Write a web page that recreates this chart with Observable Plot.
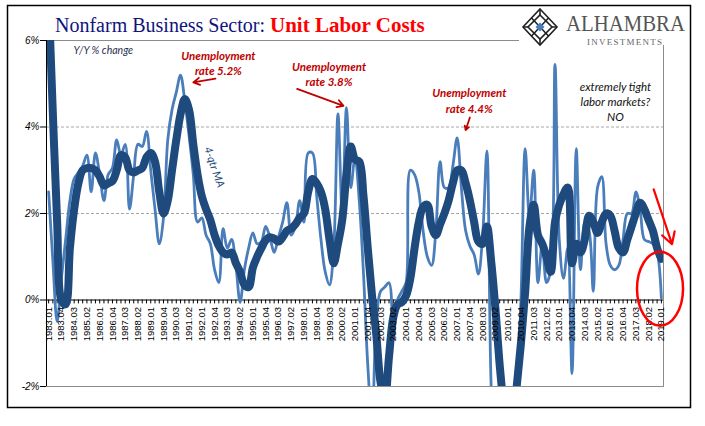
<!DOCTYPE html>
<html><head><meta charset="utf-8">
<script src="https://cdn.jsdelivr.net/npm/d3@7"></script>
<script src="https://cdn.jsdelivr.net/npm/@observablehq/plot@0.6"></script>
<style>
body{margin:0;background:#fff;}
#wrap{position:relative;width:705px;height:426px;overflow:hidden;background:#fff;}
#chart{position:absolute;left:0;top:0;}
#overlay{position:absolute;left:0;top:0;pointer-events:none;}
</style></head>
<body><div id="wrap"><div id="chart"></div>
<svg id="overlay" width="705" height="426" xmlns="http://www.w3.org/2000/svg">
  <rect x="7.5" y="5.5" width="683" height="402" fill="none" stroke="#000" stroke-width="1.5"/>
  <rect x="519" y="7" width="170" height="38" fill="#fff"/>
  <text x="55" y="32" font-family="Liberation Serif" font-size="20"><tspan fill="#10147e">Nonfarm Business Sector: </tspan><tspan fill="#ff0000" font-weight="bold" font-size="21">Unit Labor Costs</tspan></text>
  <g stroke="#222" fill="none" stroke-width="1.6">
    <path d="M540,9 L557,27 L540,45 L523,27 Z"/>
    <path d="M540,15 L552,27 L540,39 L528,27 Z"/>
    <path d="M531.5,18 L548.5,36 M548.5,18 L531.5,36"/>
    <path d="M540,9 L540,15 M557,27 L552,27 M540,45 L540,39 M523,27 L528,27"/>
  </g>
  <path d="M540,22.5 L544.5,27 L540,31.5 L535.5,27 Z" fill="#4a7ebb"/>
  <text x="566" y="31" font-family="Liberation Serif" font-size="23" fill="#555" textLength="119" lengthAdjust="spacingAndGlyphs">ALHAMBRA</text>
  <text x="587" y="45" font-family="Liberation Serif" font-size="9" fill="#666" textLength="75" lengthAdjust="spacing">INVESTMENTS</text>
</svg>
</div>
<script>
// Quarterly Y/Y % change, 1983.01 .. 2019.01
const yoy = [
 2.5, 0.9, -0.5, 0.5, 1.4, 2.3, 2.8, 2.95, 3.1, 3.35,
 2.5, 3.4, 2.9, 2.3, 2.9, 3.05, 3.7, 3.35, 3.6, 2.1,
 2.9, 3.6, 3.55, 3.9, 3.0, 2.1, 1.3, 1.9, 3.7, 4.4,
 4.8, 5.2, 4.6, 3.8, 2.9, 1.8, 1.9, 1.5, 1.3, 0.7,
 0.4, 1.65, 1.2, 1.4, 0.8, -0.05, 0.7, 1.2, 1.55, 1.3,
 1.35, 1.7, 1.45, 1.1, 1.45, 1.8, 2.25, 1.5, 1.7, 2.3,
 1.8, 3.4, 3.4, 2.4, 1.4, 0.65, 0.35, 1.2, 4.3, 2.0,
 4.45, 2.6, 3.3, 2.3, 0.6, -1.5, -2.8, -0.5, 0.2, 0.3,
 0.4, -0.9, 0.0, 0.2, 0.4, 3.0, 2.9, 2.5, 1.6, 1.0,
 0.8, 1.6, 3.2, 2.6, 2.6, 3.1, 3.75, 2.6, 1.6, 1.25,
 1.05, 0.6, 1.5, 3.45, -2.0, -3.8, -4.0, -3.5, -3.2, -2.6,
 -2.2, 0.0, 3.5, 1.9, 3.0, 0.4, 1.3, 0.4, 0.7, 5.45,
 1.4, 0.5, 1.2, -1.7, 3.5, 0.7, 1.8, 1.6, 0.2, 2.6,
 2.85, 1.3, 0.8, 0.7, 0.8, 1.4, 2.0, 2.0, 2.5, 2.1,
 1.4, 1.35, 1.3, 1.1, 0.05
];
// 4-quarter moving average
const ma4 = [
 7.0, 4.3, 1.8, 0.0, -0.1, 1.2, 2.1, 2.7, 3.0, 3.05,
 3.05, 3.0, 2.85, 2.65, 2.7, 2.75, 3.0, 3.35, 3.3, 3.0,
 2.95, 3.0, 3.05, 3.3, 3.4, 3.2, 2.5, 2.0, 2.3, 3.0,
 3.7, 4.3, 4.65, 4.4, 3.6, 2.9, 2.4, 2.1, 1.85, 1.5,
 1.25, 1.1, 1.05, 1.1, 0.85, 0.65, 0.35, 0.3, 0.75, 1.0,
 1.2, 1.38, 1.45, 1.42, 1.35, 1.45, 1.6, 1.65, 1.75, 1.9,
 2.0, 2.5, 2.8, 2.7, 2.5, 2.1, 1.4, 0.85, 1.3, 1.85,
 2.9, 3.55, 3.25, 3.2, 2.4, 1.2, 0.1, -0.8, -1.9, -2.3,
 -1.3, -0.4, -0.1, -0.05, 0.1, 0.5, 1.2, 1.8, 2.15, 2.2,
 1.7, 1.5, 1.75, 2.0, 2.3, 2.7, 3.0, 3.0, 2.7, 2.3,
 1.8, 1.35, 1.3, 1.7, 0.9, -0.2, -1.5, -2.5, -3.3, -3.0,
 -2.0, -1.0, 0.2, 1.7, 2.2, 1.5, 1.3, 1.0, 0.65, 1.8,
 2.2, 2.45, 2.6, 0.85, 1.3, 1.1, 1.4, 1.95, 1.8, 1.55,
 1.8, 2.0, 1.95, 1.6, 1.2, 1.1, 1.4, 1.7, 2.0, 2.25,
 2.1, 1.85, 1.6, 1.2, 0.95
];
const yTicks = [-2, 0, 2, 4, 6];
const yTickLabels = ["-2%", "0%", "2%", "4%", "6%"];
const firstYear = 1983, lastYear = 2019;
const quarters = [];
for (let y = firstYear; y <= lastYear; y++) for (let q = 1; q <= 4; q++) {
  if (y === lastYear && q > 1) break;
  quarters.push(`${y}.0${q}`);
}
const idx = d3.range(quarters.length);
const labelIdx = idx.filter(i => i % 3 === 0);

const ellipseMark = (index, scales) => {
  const e = document.createElementNS("http://www.w3.org/2000/svg", "ellipse");
  e.setAttribute("cx", scales.x(143.8));
  e.setAttribute("cy", scales.y(0.25));
  e.setAttribute("rx", 23);
  e.setAttribute("ry", 37);
  e.setAttribute("fill", "none");
  e.setAttribute("stroke", "#ff0000");
  e.setAttribute("stroke-width", 2.5);
  return e;
};

const red = "#c00000";
const annFont = "Lato";
const chart = Plot.plot({
  width: 705, height: 426,
  marginLeft: 46, marginRight: 42, marginTop: 40, marginBottom: 40,
  x: {type: "linear", domain: [-0.5, quarters.length - 0.5], axis: null},
  y: {domain: [-2, 6], axis: null},
  style: {fontFamily: "Liberation Sans", background: "transparent", overflow: "visible"},
  marks: [
    Plot.ruleY([2, 4], {stroke: "#a6a6a6", strokeDasharray: "3,2"}),
    Plot.frame({stroke: "#8c8c8c"}),
    Plot.ruleY([0], {stroke: "#000"}),
    Plot.ruleX(idx, {x: d => d, y1: 0, y2: -0.09, stroke: "#000"}),
    Plot.lineY(yoy, {x: (d, i) => i, y: d => d, stroke: "#4a7ebb", strokeWidth: 2.8, curve: "catmull-rom", clip: true, strokeLinejoin: "round"}),
    Plot.lineY(ma4, {x: (d, i) => i, y: d => d, stroke: "#1f4a7d", strokeWidth: 8, curve: "catmull-rom", clip: true, strokeLinejoin: "round"}),
    Plot.ruleX([-0.5], {y1: -2, y2: 6, stroke: "#000"}),
    Plot.ruleY(yTicks, {x1: -1.9, x2: -0.5, stroke: "#000"}),
    Plot.text(yTicks, {frameAnchor: "left", y: d => d, text: (d, i) => yTickLabels[i], textAnchor: "end", dx: -7, fontSize: 10, fontStyle: "italic"}),
    Plot.text(labelIdx, {x: d => d, y: 0, text: d => quarters[d], rotate: -90, textAnchor: "end", dy: 7, fontSize: 9.5, fill: "#000"}),
    Plot.text(["Y/Y % change"], {x: 5.85, y: 5.76, text: d => d, textAnchor: "start", fontFamily: annFont, fontStyle: "italic", fontSize: 10.5, fill: "#1f3050"}),
    Plot.text(["Unemployment\nrate 5.2%"], {x: 39.9, y: 5.49, text: d => d, fontFamily: annFont, fontStyle: "italic", fontWeight: "bold", fontSize: 11.5, fill: red, lineHeight: 1.35}),
    Plot.text(["Unemployment\nrate 3.8%"], {x: 65.9, y: 5.24, text: d => d, fontFamily: annFont, fontStyle: "italic", fontWeight: "bold", fontSize: 11.5, fill: red, lineHeight: 1.35}),
    Plot.text(["Unemployment\nrate 4.4%"], {x: 98.85, y: 4.62, text: d => d, fontFamily: annFont, fontStyle: "italic", fontWeight: "bold", fontSize: 11.5, fill: red, lineHeight: 1.35}),
    Plot.text(["extremely tight\nlabor markets?\nNO"], {x: 133.2, y: 4.6, text: d => d, fontFamily: annFont, fontStyle: "italic", fontSize: 11.5, fill: "#111", lineHeight: 1.3}),
    Plot.text(["4-qtr MA"], {x: 38.9, y: 3.07, text: d => d, rotate: 71, fontFamily: annFont, fontStyle: "italic", fontSize: 11, fill: "#1f4a7d"}),
    Plot.arrow([0], {x1: 39.2, y1: 5.12, x2: 34.0, y2: 5.03, stroke: red, strokeWidth: 1.8, headLength: 6}),
    Plot.arrow([0], {x1: 58.4, y1: 4.88, x2: 69.3, y2: 4.49, stroke: red, strokeWidth: 1.8, headLength: 6}),
    Plot.arrow([0], {x1: 99.0, y1: 4.22, x2: 98.0, y2: 3.93, stroke: red, strokeWidth: 1.8, headLength: 6}),
    Plot.arrow([0], {x1: 142.2, y1: 2.56, x2: 146.5, y2: 1.29, stroke: "#ff0000", strokeWidth: 2.2, headLength: 9}),
    ellipseMark
  ]
});
document.getElementById("chart").appendChild(chart);
</script>
</body></html>
